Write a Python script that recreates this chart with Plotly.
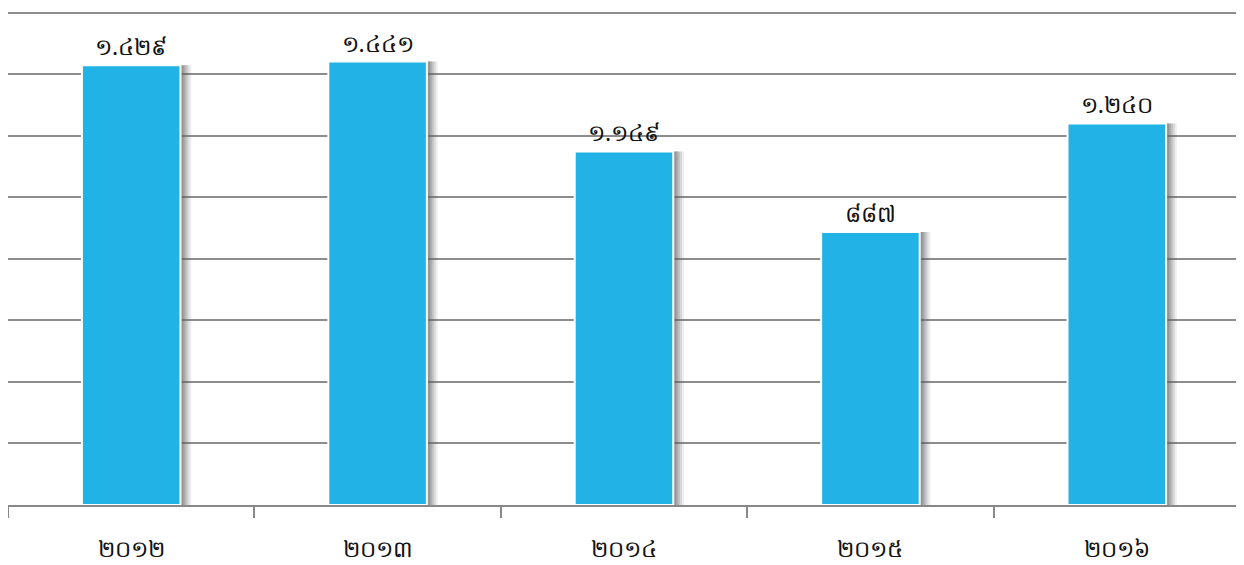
import plotly.graph_objects as go

years = ["២០១២", "២០១៣", "២០១៤", "២០១៥", "២០១៦"]
values = [1429, 1441, 1149, 887, 1240]
labels = ["១.៤២៩", "១.៤៤១", "១.១៤៩", "៨៨៧", "១.២៤០"]

fig = go.Figure()

# soft shadow layers
for off, op in [(0.044, 0.10), (0.036, 0.15), (0.028, 0.2), (0.020, 0.25), (0.012, 0.3)]:
    fig.add_trace(go.Bar(
        x=years, y=values, width=0.4, offset=-0.2 + off,
        marker=dict(color=f"rgba(100,100,100,{op})", line=dict(width=0)),
        hoverinfo="skip", showlegend=False,
    ))

fig.add_trace(go.Bar(
    x=years, y=values, width=0.4, offset=-0.2,
    marker=dict(color="#21B3E6", line=dict(color="white", width=2)),
    text=labels, textposition="outside", cliponaxis=False,
    textfont=dict(size=23, color="#111111"),
    showlegend=False,
))

fig.update_layout(
    barmode="overlay",
    width=1236, height=557,
    margin=dict(l=0, r=4, t=1, b=60),
    paper_bgcolor="white", plot_bgcolor="white",
    font=dict(family="Noto Sans, DejaVu Sans, sans-serif"),
    xaxis=dict(
        type="category", tickson="boundaries", ticks="outside", ticklen=11,
        tickwidth=1.5, tickcolor="#888888",
        showline=True, linecolor="#888888", linewidth=1.5,
        tickfont=dict(size=23, color="#111111"),
        ticklabelstandoff=23,
        showgrid=False, automargin=False,
    ),
    yaxis=dict(
        range=[0, 1612], tick0=0, dtick=200, showticklabels=False,
        showgrid=True, gridcolor="#8c8c8c", gridwidth=1.5,
        zeroline=False, showline=False, automargin=False,
    ),
)

fig.write_html("out.html")
